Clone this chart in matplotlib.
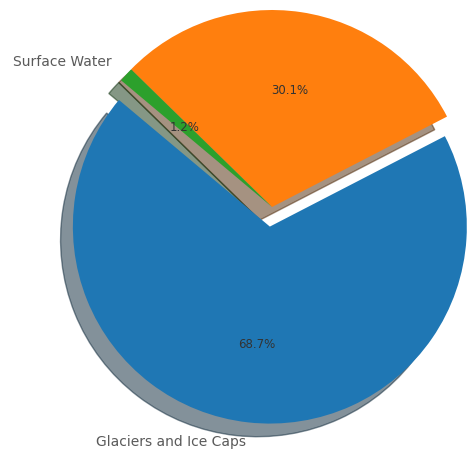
import matplotlib
matplotlib.use('Agg')
import matplotlib.pyplot as plt

# Datos del grafico
etiquetas = ['Glaciers and Ice Caps', 'Groundwater', 'Surface Water']
porcentajes = [68.7, 30.1, 1.2]
separacion = (0.1, 0, 0)

fig = plt.figure(figsize=(4.69, 4.51), dpi=100)
ax = fig.add_axes([0, 0, 1, 1])

wedges, textos, autotextos = ax.pie(
    porcentajes, explode=separacion, labels=etiquetas, autopct='%1.1f%%',
    shadow={'ox': -0.045, 'oy': -0.048}, startangle=140,
    textprops={'fontsize': 10})

for t in textos:
    t.set_color('#5a5a5a')
for t in autotextos:
    t.set_color('#333333')
    t.set_fontsize(8.5)

# Recorte de la vista como en la imagen original
ax.set_aspect('auto')
ax.set_xlim(-1.381, 1.0)
ax.set_ylim(-1.2386, 1.0508)
ax.axis('off')

plt.savefig('out.png', dpi=100)
